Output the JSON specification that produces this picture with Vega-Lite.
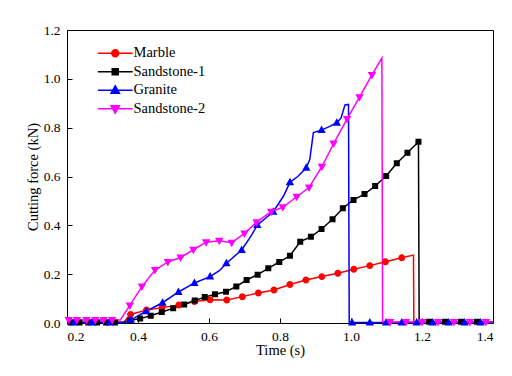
{
  "$schema": "https://vega.github.io/schema/vega-lite/v6.json",
  "width": 426,
  "height": 293,
  "autosize": "none",
  "padding": {"left": 67, "top": 30, "right": 19, "bottom": 53},
  "background": "white",
  "config": {
    "font": "Times New Roman, Liberation Serif, serif",
    "view": {"stroke": "black", "strokeWidth": 1},
    "axis": {
      "grid": false,
      "domainColor": "black",
      "domainWidth": 1,
      "tickColor": "black",
      "tickWidth": 1,
      "tickSize": -5,
      "labelColor": "black",
      "titleColor": "black",
      "labelFont": "Times New Roman, Liberation Serif, serif",
      "titleFont": "Times New Roman, Liberation Serif, serif",
      "labelFontSize": 13.5,
      "titleFontSize": 14.5,
      "titleFontWeight": "normal"
    },
    "legend": {
      "title": null,
      "orient": "none",
      "legendX": 41,
      "legendY": 16,
      "padding": 0,
      "symbolSize": 144,
      "symbolStrokeWidth": 1.5,
      "symbolOpacity": 1,
      "labelFont": "Times New Roman, Liberation Serif, serif",
      "labelFontSize": 14.5,
      "labelColor": "black",
      "labelOffset": 11,
      "rowPadding": 3.5
    }
  },
  "datasets": {
    "curves": [
      {"series": "Marble", "t": 0.2, "f": 0.003},
      {"series": "Marble", "t": 0.36, "f": 0.004},
      {"series": "Marble", "t": 0.379, "f": 0.035},
      {"series": "Marble", "t": 0.424, "f": 0.053},
      {"series": "Marble", "t": 0.468, "f": 0.063},
      {"series": "Marble", "t": 0.515, "f": 0.074},
      {"series": "Marble", "t": 0.559, "f": 0.088},
      {"series": "Marble", "t": 0.603, "f": 0.095},
      {"series": "Marble", "t": 0.65, "f": 0.094},
      {"series": "Marble", "t": 0.694, "f": 0.108},
      {"series": "Marble", "t": 0.739, "f": 0.123},
      {"series": "Marble", "t": 0.783, "f": 0.135},
      {"series": "Marble", "t": 0.828, "f": 0.158},
      {"series": "Marble", "t": 0.873, "f": 0.176},
      {"series": "Marble", "t": 0.918, "f": 0.19},
      {"series": "Marble", "t": 0.963, "f": 0.204},
      {"series": "Marble", "t": 1.008, "f": 0.22},
      {"series": "Marble", "t": 1.053, "f": 0.235},
      {"series": "Marble", "t": 1.097, "f": 0.251},
      {"series": "Marble", "t": 1.143, "f": 0.267},
      {"series": "Marble", "t": 1.176, "f": 0.278},
      {"series": "Marble", "t": 1.177, "f": 0.003},
      {"series": "Marble", "t": 1.4, "f": 0.003},

      {"series": "Sandstone-1", "t": 0.2, "f": 0.002},
      {"series": "Sandstone-1", "t": 0.36, "f": 0.002},
      {"series": "Sandstone-1", "t": 0.377, "f": 0.01},
      {"series": "Sandstone-1", "t": 0.406, "f": 0.018},
      {"series": "Sandstone-1", "t": 0.436, "f": 0.03},
      {"series": "Sandstone-1", "t": 0.467, "f": 0.045},
      {"series": "Sandstone-1", "t": 0.499, "f": 0.06},
      {"series": "Sandstone-1", "t": 0.53, "f": 0.076},
      {"series": "Sandstone-1", "t": 0.56, "f": 0.092},
      {"series": "Sandstone-1", "t": 0.588, "f": 0.106},
      {"series": "Sandstone-1", "t": 0.617, "f": 0.118},
      {"series": "Sandstone-1", "t": 0.648, "f": 0.128},
      {"series": "Sandstone-1", "t": 0.677, "f": 0.15},
      {"series": "Sandstone-1", "t": 0.706, "f": 0.176},
      {"series": "Sandstone-1", "t": 0.737, "f": 0.198},
      {"series": "Sandstone-1", "t": 0.767, "f": 0.224},
      {"series": "Sandstone-1", "t": 0.798, "f": 0.25},
      {"series": "Sandstone-1", "t": 0.828, "f": 0.275},
      {"series": "Sandstone-1", "t": 0.857, "f": 0.333},
      {"series": "Sandstone-1", "t": 0.887, "f": 0.353},
      {"series": "Sandstone-1", "t": 0.917, "f": 0.385},
      {"series": "Sandstone-1", "t": 0.948, "f": 0.425},
      {"series": "Sandstone-1", "t": 0.977, "f": 0.47},
      {"series": "Sandstone-1", "t": 1.007, "f": 0.504},
      {"series": "Sandstone-1", "t": 1.038, "f": 0.528},
      {"series": "Sandstone-1", "t": 1.068, "f": 0.561},
      {"series": "Sandstone-1", "t": 1.099, "f": 0.602},
      {"series": "Sandstone-1", "t": 1.129, "f": 0.654},
      {"series": "Sandstone-1", "t": 1.159, "f": 0.697},
      {"series": "Sandstone-1", "t": 1.19, "f": 0.742},
      {"series": "Sandstone-1", "t": 1.192, "f": 0.005},
      {"series": "Sandstone-1", "t": 1.4, "f": 0.005},

      {"series": "Granite", "t": 0.2, "f": 0.002},
      {"series": "Granite", "t": 0.36, "f": 0.002},
      {"series": "Granite", "t": 0.38, "f": 0.013},
      {"series": "Granite", "t": 0.423, "f": 0.048},
      {"series": "Granite", "t": 0.469, "f": 0.083},
      {"series": "Granite", "t": 0.514, "f": 0.127},
      {"series": "Granite", "t": 0.559, "f": 0.164},
      {"series": "Granite", "t": 0.603, "f": 0.19},
      {"series": "Granite", "t": 0.63, "f": 0.215},
      {"series": "Granite", "t": 0.649, "f": 0.245},
      {"series": "Granite", "t": 0.692, "f": 0.299},
      {"series": "Granite", "t": 0.72, "f": 0.36},
      {"series": "Granite", "t": 0.736, "f": 0.401},
      {"series": "Granite", "t": 0.76, "f": 0.43},
      {"series": "Granite", "t": 0.781, "f": 0.456},
      {"series": "Granite", "t": 0.81, "f": 0.52},
      {"series": "Granite", "t": 0.828, "f": 0.576},
      {"series": "Granite", "t": 0.85, "f": 0.6},
      {"series": "Granite", "t": 0.874, "f": 0.636},
      {"series": "Granite", "t": 0.884, "f": 0.67},
      {"series": "Granite", "t": 0.894, "f": 0.78},
      {"series": "Granite", "t": 0.917, "f": 0.79},
      {"series": "Granite", "t": 0.94, "f": 0.805},
      {"series": "Granite", "t": 0.96, "f": 0.82},
      {"series": "Granite", "t": 0.972, "f": 0.84},
      {"series": "Granite", "t": 0.983, "f": 0.893},
      {"series": "Granite", "t": 0.993, "f": 0.895},
      {"series": "Granite", "t": 0.995, "f": 0.002},
      {"series": "Granite", "t": 1.4, "f": 0.002},

      {"series": "Sandstone-2", "t": 0.2, "f": 0.012},
      {"series": "Sandstone-2", "t": 0.35, "f": 0.012},
      {"series": "Sandstone-2", "t": 0.377, "f": 0.072},
      {"series": "Sandstone-2", "t": 0.411, "f": 0.149},
      {"series": "Sandstone-2", "t": 0.448, "f": 0.217},
      {"series": "Sandstone-2", "t": 0.484, "f": 0.25},
      {"series": "Sandstone-2", "t": 0.52, "f": 0.268},
      {"series": "Sandstone-2", "t": 0.556, "f": 0.3},
      {"series": "Sandstone-2", "t": 0.592, "f": 0.331},
      {"series": "Sandstone-2", "t": 0.629, "f": 0.337},
      {"series": "Sandstone-2", "t": 0.664, "f": 0.329},
      {"series": "Sandstone-2", "t": 0.7, "f": 0.367},
      {"series": "Sandstone-2", "t": 0.734, "f": 0.413},
      {"series": "Sandstone-2", "t": 0.775, "f": 0.456},
      {"series": "Sandstone-2", "t": 0.808, "f": 0.474},
      {"series": "Sandstone-2", "t": 0.847, "f": 0.517},
      {"series": "Sandstone-2", "t": 0.882, "f": 0.555},
      {"series": "Sandstone-2", "t": 0.918, "f": 0.64},
      {"series": "Sandstone-2", "t": 0.951, "f": 0.735},
      {"series": "Sandstone-2", "t": 0.989, "f": 0.836},
      {"series": "Sandstone-2", "t": 1.024, "f": 0.925},
      {"series": "Sandstone-2", "t": 1.059, "f": 1.016},
      {"series": "Sandstone-2", "t": 1.087, "f": 1.085},
      {"series": "Sandstone-2", "t": 1.089, "f": 0.004},
      {"series": "Sandstone-2", "t": 1.4, "f": 0.004}
    ],
    "markers": [
      {"series": "Marble", "t": 0.379, "f": 0.035},
      {"series": "Marble", "t": 0.424, "f": 0.053},
      {"series": "Marble", "t": 0.468, "f": 0.063},
      {"series": "Marble", "t": 0.515, "f": 0.074},
      {"series": "Marble", "t": 0.559, "f": 0.088},
      {"series": "Marble", "t": 0.603, "f": 0.095},
      {"series": "Marble", "t": 0.65, "f": 0.094},
      {"series": "Marble", "t": 0.694, "f": 0.108},
      {"series": "Marble", "t": 0.739, "f": 0.123},
      {"series": "Marble", "t": 0.783, "f": 0.135},
      {"series": "Marble", "t": 0.828, "f": 0.158},
      {"series": "Marble", "t": 0.873, "f": 0.176},
      {"series": "Marble", "t": 0.918, "f": 0.19},
      {"series": "Marble", "t": 0.963, "f": 0.204},
      {"series": "Marble", "t": 1.008, "f": 0.22},
      {"series": "Marble", "t": 1.053, "f": 0.235},
      {"series": "Marble", "t": 1.097, "f": 0.251},
      {"series": "Marble", "t": 1.143, "f": 0.267},

      {"series": "Sandstone-1", "t": 0.21, "f": 0.002},
      {"series": "Sandstone-1", "t": 0.235, "f": 0.002},
      {"series": "Sandstone-1", "t": 0.26, "f": 0.002},
      {"series": "Sandstone-1", "t": 0.285, "f": 0.002},
      {"series": "Sandstone-1", "t": 0.31, "f": 0.002},
      {"series": "Sandstone-1", "t": 0.335, "f": 0.002},
      {"series": "Sandstone-1", "t": 0.377, "f": 0.01},
      {"series": "Sandstone-1", "t": 0.406, "f": 0.018},
      {"series": "Sandstone-1", "t": 0.436, "f": 0.03},
      {"series": "Sandstone-1", "t": 0.467, "f": 0.045},
      {"series": "Sandstone-1", "t": 0.499, "f": 0.06},
      {"series": "Sandstone-1", "t": 0.53, "f": 0.076},
      {"series": "Sandstone-1", "t": 0.56, "f": 0.092},
      {"series": "Sandstone-1", "t": 0.588, "f": 0.106},
      {"series": "Sandstone-1", "t": 0.617, "f": 0.118},
      {"series": "Sandstone-1", "t": 0.648, "f": 0.128},
      {"series": "Sandstone-1", "t": 0.677, "f": 0.15},
      {"series": "Sandstone-1", "t": 0.706, "f": 0.176},
      {"series": "Sandstone-1", "t": 0.737, "f": 0.198},
      {"series": "Sandstone-1", "t": 0.767, "f": 0.224},
      {"series": "Sandstone-1", "t": 0.798, "f": 0.25},
      {"series": "Sandstone-1", "t": 0.828, "f": 0.275},
      {"series": "Sandstone-1", "t": 0.857, "f": 0.333},
      {"series": "Sandstone-1", "t": 0.887, "f": 0.353},
      {"series": "Sandstone-1", "t": 0.917, "f": 0.385},
      {"series": "Sandstone-1", "t": 0.948, "f": 0.425},
      {"series": "Sandstone-1", "t": 0.977, "f": 0.47},
      {"series": "Sandstone-1", "t": 1.007, "f": 0.504},
      {"series": "Sandstone-1", "t": 1.038, "f": 0.528},
      {"series": "Sandstone-1", "t": 1.068, "f": 0.561},
      {"series": "Sandstone-1", "t": 1.099, "f": 0.602},
      {"series": "Sandstone-1", "t": 1.129, "f": 0.654},
      {"series": "Sandstone-1", "t": 1.159, "f": 0.697},
      {"series": "Sandstone-1", "t": 1.19, "f": 0.742},
      {"series": "Sandstone-1", "t": 1.22, "f": 0.005},
      {"series": "Sandstone-1", "t": 1.265, "f": 0.005},
      {"series": "Sandstone-1", "t": 1.31, "f": 0.005},
      {"series": "Sandstone-1", "t": 1.355, "f": 0.005},

      {"series": "Granite", "t": 0.22, "f": 0.002},
      {"series": "Granite", "t": 0.27, "f": 0.002},
      {"series": "Granite", "t": 0.32, "f": 0.002},
      {"series": "Granite", "t": 0.38, "f": 0.013},
      {"series": "Granite", "t": 0.423, "f": 0.048},
      {"series": "Granite", "t": 0.469, "f": 0.083},
      {"series": "Granite", "t": 0.514, "f": 0.127},
      {"series": "Granite", "t": 0.559, "f": 0.164},
      {"series": "Granite", "t": 0.603, "f": 0.19},
      {"series": "Granite", "t": 0.649, "f": 0.245},
      {"series": "Granite", "t": 0.692, "f": 0.299},
      {"series": "Granite", "t": 0.736, "f": 0.401},
      {"series": "Granite", "t": 0.781, "f": 0.456},
      {"series": "Granite", "t": 0.828, "f": 0.576},
      {"series": "Granite", "t": 0.874, "f": 0.636},
      {"series": "Granite", "t": 0.917, "f": 0.79},
      {"series": "Granite", "t": 0.96, "f": 0.82},
      {"series": "Granite", "t": 1.003, "f": 0.002},
      {"series": "Granite", "t": 1.053, "f": 0.002},
      {"series": "Granite", "t": 1.099, "f": 0.002},
      {"series": "Granite", "t": 1.143, "f": 0.002},
      {"series": "Granite", "t": 1.185, "f": 0.002},
      {"series": "Granite", "t": 1.23, "f": 0.002},
      {"series": "Granite", "t": 1.275, "f": 0.002},
      {"series": "Granite", "t": 1.32, "f": 0.002},
      {"series": "Granite", "t": 1.365, "f": 0.002},

      {"series": "Sandstone-2", "t": 0.205, "f": 0.012},
      {"series": "Sandstone-2", "t": 0.228, "f": 0.012},
      {"series": "Sandstone-2", "t": 0.255, "f": 0.012},
      {"series": "Sandstone-2", "t": 0.28, "f": 0.012},
      {"series": "Sandstone-2", "t": 0.303, "f": 0.012},
      {"series": "Sandstone-2", "t": 0.327, "f": 0.012},
      {"series": "Sandstone-2", "t": 0.377, "f": 0.072},
      {"series": "Sandstone-2", "t": 0.411, "f": 0.149},
      {"series": "Sandstone-2", "t": 0.448, "f": 0.217},
      {"series": "Sandstone-2", "t": 0.484, "f": 0.25},
      {"series": "Sandstone-2", "t": 0.52, "f": 0.268},
      {"series": "Sandstone-2", "t": 0.556, "f": 0.3},
      {"series": "Sandstone-2", "t": 0.592, "f": 0.331},
      {"series": "Sandstone-2", "t": 0.629, "f": 0.337},
      {"series": "Sandstone-2", "t": 0.664, "f": 0.329},
      {"series": "Sandstone-2", "t": 0.7, "f": 0.367},
      {"series": "Sandstone-2", "t": 0.734, "f": 0.413},
      {"series": "Sandstone-2", "t": 0.775, "f": 0.456},
      {"series": "Sandstone-2", "t": 0.808, "f": 0.474},
      {"series": "Sandstone-2", "t": 0.847, "f": 0.517},
      {"series": "Sandstone-2", "t": 0.882, "f": 0.555},
      {"series": "Sandstone-2", "t": 0.918, "f": 0.64},
      {"series": "Sandstone-2", "t": 0.951, "f": 0.735},
      {"series": "Sandstone-2", "t": 0.989, "f": 0.836},
      {"series": "Sandstone-2", "t": 1.024, "f": 0.925},
      {"series": "Sandstone-2", "t": 1.059, "f": 1.016},
      {"series": "Sandstone-2", "t": 1.11, "f": 0.004},
      {"series": "Sandstone-2", "t": 1.155, "f": 0.004},
      {"series": "Sandstone-2", "t": 1.2, "f": 0.004},
      {"series": "Sandstone-2", "t": 1.245, "f": 0.004},
      {"series": "Sandstone-2", "t": 1.29, "f": 0.004},
      {"series": "Sandstone-2", "t": 1.335, "f": 0.004},
      {"series": "Sandstone-2", "t": 1.38, "f": 0.004}
    ]
  },
  "layer": [
    {
      "data": {"name": "curves"},
      "mark": {"type": "line", "strokeWidth": 1.5},
      "encoding": {
        "x": {
          "field": "t", "type": "quantitative",
          "scale": {"domain": [0.2, 1.4], "nice": false, "zero": false},
          "axis": {"values": [0.2, 0.4, 0.6, 0.8, 1.0, 1.2, 1.4], "format": ".1f", "title": "Time (s)", "labelPadding": 11, "titlePadding": 1}
        },
        "y": {
          "field": "f", "type": "quantitative",
          "scale": {"domain": [0, 1.2], "nice": false},
          "axis": {"values": [0, 0.2, 0.4, 0.6, 0.8, 1.0, 1.2], "format": ".1f", "title": "Cutting force (kN)", "labelPadding": 12, "titlePadding": 3}
        },
        "color": {
          "field": "series", "type": "nominal",
          "scale": {"domain": ["Marble", "Sandstone-1", "Granite", "Sandstone-2"], "range": ["#ff0000", "#000000", "#0000ff", "#ff00ff"]}
        }
      }
    },
    {
      "data": {"name": "markers"},
      "mark": {"type": "point", "filled": true, "opacity": 1, "size": 144, "strokeWidth": 0},
      "encoding": {
        "x": {"field": "t", "type": "quantitative"},
        "y": {"field": "f", "type": "quantitative"},
        "color": {
          "field": "series", "type": "nominal",
          "scale": {"domain": ["Marble", "Sandstone-1", "Granite", "Sandstone-2"], "range": ["#ff0000", "#000000", "#0000ff", "#ff00ff"]}
        },
        "shape": {
          "field": "series", "type": "nominal",
          "scale": {
            "domain": ["Marble", "Sandstone-1", "Granite", "Sandstone-2"],
            "range": [
              "M-2.9,0H2.9M0.58,0A0.58,0.58,0,1,1,-0.58,0A0.58,0.58,0,1,1,0.58,0Z",
              "M-2.9,0H2.9M-0.5,-0.5H0.5V0.5H-0.5Z",
              "M-2.9,0H2.9M0,-0.75L0.7,0.5L-0.7,0.5Z",
              "M-2.9,0H2.9M0,0.75L0.7,-0.5L-0.7,-0.5Z"
            ]
          }
        }
      }
    }
  ]
}
